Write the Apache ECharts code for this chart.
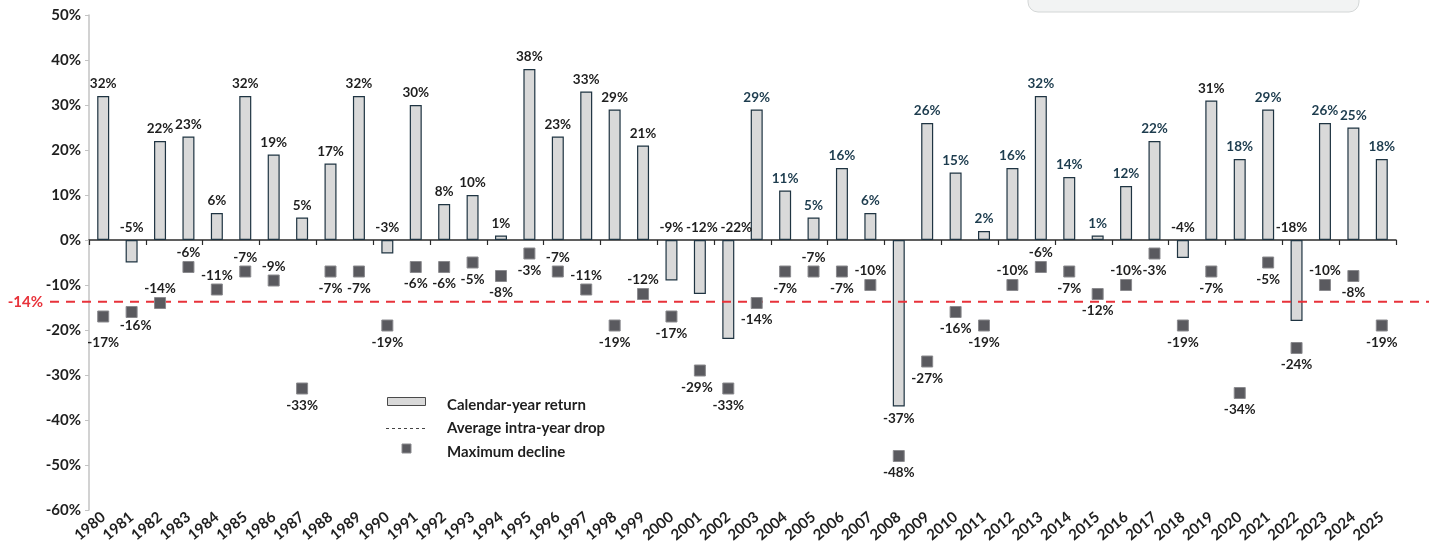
<!DOCTYPE html>
<html>
<head>
<meta charset="utf-8">
<script src="https://cdn.jsdelivr.net/npm/echarts@6/dist/echarts.min.js"></script>
<style>
  html, body { margin: 0; padding: 0; background: #ffffff; }
  #chart { width: 1429px; height: 549px; }
</style>
</head>
<body>
<div id="chart"></div>
<script>
// S&P 500: calendar-year returns and the largest intra-year decline, in percent
const years = ['1980','1981','1982','1983','1984','1985','1986','1987','1988','1989',
  '1990','1991','1992','1993','1994','1995','1996','1997','1998','1999',
  '2000','2001','2002','2003','2004','2005','2006','2007','2008','2009',
  '2010','2011','2012','2013','2014','2015','2016','2017','2018','2019',
  '2020','2021','2022','2023','2024','2025'];

const calendarReturns = [32, -5, 22, 23, 6, 32, 19, 5, 17, 32,
  -3, 30, 8, 10, 1, 38, 23, 33, 29, 21,
  -9, -12, -22, 29, 11, 5, 16, 6, -37, 26,
  15, 2, 16, 32, 14, 1, 12, 22, -4, 31,
  18, 29, -18, 26, 25, 18];

const maxDeclines = [-17, -16, -14, -6, -11, -7, -9, -33, -7, -7,
  -19, -6, -6, -5, -8, -3, -7, -11, -19, -12,
  -17, -29, -33, -14, -7, -7, -7, -10, -48, -27,
  -16, -19, -10, -6, -7, -12, -10, -3, -19, -7,
  -34, -5, -24, -10, -8, -19];

const yTicks = { min: -60, max: 50, step: 10 };

// average of the yearly maximum declines
const avgDrop = maxDeclines.reduce((a, b) => a + b, 0) / maxDeclines.length;

// label placement / colouring helpers
const declineLabelAbove = new Set(['1982','1983','1984','1985','1986','1996','1997','1999',
  '2005','2007','2012','2013','2016','2023']);
const declineLabelNudge = { '1980': [0, 9], '1981': [4, -3], '2001': [-3, 0] };
const returnLabelBelow = new Set(['2008']);
const returnLabelNudge = { '2002': [8, 0], '2001': [2, 0], '2022': [-5, 0] };
const tealFromYear = 2003;
const plainYears = new Set(['2019']);

const FONT = 'Lato, "Noto Sans", sans-serif';
const TEAL = '#1d3c4e';
const INK = '#1f1f1f';
const RED = '#e8323a';

const chart = echarts.init(document.getElementById('chart'), null, { renderer: 'canvas' });

const barData = calendarReturns.map((v, i) => {
  const yr = years[i];
  const teal = v > 0 && Number(yr) >= tealFromYear && !plainYears.has(yr);
  const label = { color: teal ? TEAL : INK };
  if (returnLabelBelow.has(yr)) label.position = 'bottom';
  if (returnLabelNudge[yr]) label.offset = returnLabelNudge[yr];
  return { value: v, label };
});

const declineData = maxDeclines.map((v, i) => {
  const yr = years[i];
  const above = declineLabelAbove.has(yr);
  const label = { position: above ? 'top' : 'bottom', distance: above ? 1 : 4 };
  if (declineLabelNudge[yr]) label.offset = declineLabelNudge[yr];
  return { value: v, label };
});

const option = {
  animation: false,
  grid: { left: 89, right: 33, top: 15, bottom: 39, containLabel: false },
  xAxis: [
    {
      type: 'category',
      data: years,
      position: 'bottom',
      axisLine: { show: false, onZero: false },
      axisTick: { show: false },
      axisLabel: {
        rotate: 40,
        margin: 5,
        fontFamily: FONT,
        fontWeight: 'bold',
        fontSize: 15,
        color: INK,
        interval: 0
      }
    },
    {
      type: 'category',
      data: years,
      position: 'top',
      axisLine: { show: true, onZero: true, lineStyle: { color: '#2b2b2b', width: 1.5 } },
      axisTick: { show: true, inside: true, length: 5, lineStyle: { color: '#2b2b2b', width: 1.2 } },
      axisLabel: { show: false }
    }
  ],
  yAxis: {
    type: 'value',
    min: yTicks.min,
    max: yTicks.max,
    interval: yTicks.step,
    axisLine: { show: true, lineStyle: { color: '#c3c3c3', width: 1.5 } },
    axisTick: { show: true, length: 4, lineStyle: { color: '#c3c3c3' } },
    splitLine: { show: false },
    axisLabel: {
      formatter: '{value}%',
      fontFamily: FONT,
      fontWeight: 'bold',
      fontSize: 15,
      color: INK,
      margin: 8
    }
  },
  series: [
    {
      name: 'Calendar-year return',
      type: 'bar',
      xAxisIndex: 0,
      data: barData,
      barWidth: 12,
      itemStyle: { color: '#d9d9d9', borderColor: '#1f3442', borderWidth: 1.2 },
      label: {
        show: true,
        position: 'top',
        distance: 5,
        formatter: p => Math.round(p.value) + '%',
        fontFamily: FONT,
        fontWeight: 'bold',
        fontSize: 13.5
      },
      z: 2
    },
    {
      name: 'Maximum decline',
      type: 'scatter',
      xAxisIndex: 0,
      data: declineData,
      symbol: 'rect',
      symbolSize: 11,
      itemStyle: { color: '#5a5a5f', borderColor: '#8a8a8e', borderWidth: 1, opacity: 1 },
      label: {
        show: true,
        formatter: p => Math.round(p.value) + '%',
        fontFamily: FONT,
        fontWeight: 'bold',
        fontSize: 13.5,
        color: INK
      },
      z: 4
    }
  ]
};

chart.setOption(option);

// Average-drop reference line spanning the full width, plus the legend and header panel
const avgY = chart.convertToPixel({ yAxisIndex: 0 }, avgDrop);
const W = 1429;

chart.setOption({
  graphic: [
    {
      type: 'rect',
      shape: { x: 1028, y: -30, width: 331, height: 42, r: 10 },
      style: { fill: '#f2f3f3', stroke: '#d3d6d6', lineWidth: 1 },
      z: 0
    },
    {
      type: 'line',
      shape: { x1: 50, y1: avgY, x2: W, y2: avgY },
      style: { stroke: RED, lineWidth: 2, lineDash: [9, 7] },
      z: 3
    },
    {
      type: 'text',
      x: 43, y: avgY,
      style: {
        text: Math.round(avgDrop) + '%',
        fill: RED, font: 'bold 15px ' + FONT,
        align: 'right', verticalAlign: 'middle'
      },
      z: 3
    },
    // legend
    {
      type: 'rect',
      shape: { x: 387.5, y: 397.5, width: 38, height: 8 },
      style: { fill: '#d9d9d9', stroke: '#4a4a4a', lineWidth: 1 },
      z: 5
    },
    {
      type: 'text', x: 447, y: 405,
      style: { text: 'Calendar-year return', fill: INK, font: 'bold 15px ' + FONT, verticalAlign: 'middle' },
      z: 5
    },
    {
      type: 'line',
      shape: { x1: 386, y1: 428.5, x2: 426, y2: 428.5 },
      style: { stroke: '#444', lineWidth: 1, lineDash: [3, 3] },
      z: 5
    },
    {
      type: 'text', x: 447, y: 428,
      style: { text: 'Average intra-year drop', fill: INK, font: 'bold 15px ' + FONT, verticalAlign: 'middle' },
      z: 5
    },
    {
      type: 'rect',
      shape: { x: 402, y: 444, width: 9, height: 9 },
      style: { fill: '#5a5a5f', stroke: '#8a8a8e', lineWidth: 1 },
      z: 5
    },
    {
      type: 'text', x: 447, y: 452,
      style: { text: 'Maximum decline', fill: INK, font: 'bold 15px ' + FONT, verticalAlign: 'middle' },
      z: 5
    }
  ]
});
</script>
</body>
</html>
